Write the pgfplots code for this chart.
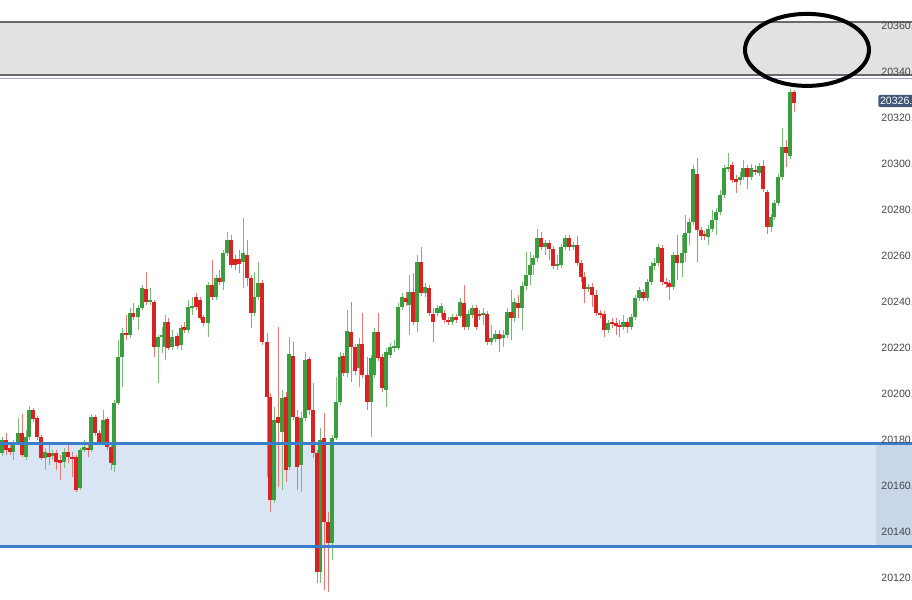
\documentclass[border=0pt]{standalone}
\usepackage{pgfplots}
\pgfplotsset{compat=1.18}
\usepackage{pgfplotstable}
\usepackage{fontspec}
\setmainfont{Liberation Sans}

\definecolor{upg}{RGB}{58,158,62}
\definecolor{upw}{RGB}{120,190,120}
\definecolor{dnr}{RGB}{218,34,34}
\definecolor{dnw}{RGB}{230,120,120}
\definecolor{zoneblue}{RGB}{217,229,243}
\definecolor{zoneblue2}{RGB}{200,214,231}
\definecolor{lineblue}{RGB}{58,128,200}
\definecolor{zonegrey}{RGB}{226,226,229}
\definecolor{boxline}{RGB}{105,105,110}
\definecolor{lilac}{RGB}{170,160,205}
\definecolor{lbl}{RGB}{70,70,70}
\definecolor{tag}{RGB}{66,86,118}

% x = position, o h l c = prices
\pgfplotstableread{
x o h l c
2 20174.3 20181.3 20173.0 20180.0
13 20174.8 20180.0 20171.3 20179.1
18 20179.1 20189.6 20177.8 20183.0
26 20172.6 20184.3 20171.3 20181.3
29 20181.3 20194.8 20180.0 20193.0
45 20172.2 20176.5 20167.0 20174.8
52 20173.0 20175.7 20171.3 20174.3
64 20170.4 20176.5 20167.8 20174.8
80 20159.1 20176.5 20158.3 20175.7
84 20175.7 20180.0 20174.8 20177.0
91 20175.7 20191.3 20174.8 20190.0
103 20179.1 20193.0 20177.8 20188.7
114 20169.1 20197.4 20166.1 20196.1
118 20196.1 20223.5 20195.2 20216.1
122 20216.1 20228.7 20203.0 20226.5
130 20225.7 20237.4 20224.3 20235.2
138 20233.5 20238.7 20227.8 20237.4
142 20237.4 20247.4 20236.5 20246.1
150 20240.0 20246.1 20238.7 20240.9
158 20220.4 20225.7 20204.8 20224.8
162 20224.8 20229.1 20217.8 20225.7
165 20220.4 20234.3 20214.8 20231.3
172 20220.4 20227.8 20219.1 20224.8
181 20221.3 20230.0 20219.1 20228.7
188 20227.8 20240.9 20226.5 20237.8
192 20237.4 20242.2 20234.3 20238.3
208 20230.9 20248.7 20224.8 20247.4
216 20242.2 20251.7 20240.9 20250.4
223 20248.7 20262.6 20245.2 20261.3
227 20261.3 20270.4 20260.0 20267.0
243 20257.4 20276.7 20246.1 20261.3
254 20235.2 20253.0 20233.9 20242.2
258 20242.2 20257.4 20240.9 20248.3
274 20153.9 20194.3 20152.6 20188.7
282 20183.5 20201.7 20158.3 20198.3
289 20168.3 20224.8 20167.0 20217.4
301 20169.1 20192.2 20157.4 20189.6
305 20189.6 20218.3 20188.3 20214.8
320 20122.6 20185.2 20117.8 20180.0
332 20135.2 20182.2 20127.8 20180.9
336 20180.9 20207.4 20180.0 20196.5
340 20196.5 20218.3 20195.2 20216.1
347 20209.1 20236.5 20207.4 20227.4
359 20211.3 20224.3 20203.0 20221.7
371 20196.5 20217.0 20181.3 20215.7
374 20208.3 20228.7 20207.0 20227.0
386 20201.7 20220.0 20194.3 20218.3
390 20217.0 20222.2 20215.7 20220.4
394 20220.0 20223.5 20218.3 20220.9
398 20220.0 20239.6 20219.1 20237.8
402 20237.8 20243.9 20236.5 20242.2
409 20238.7 20251.7 20225.7 20244.3
417 20231.3 20260.4 20227.0 20257.4
425 20243.9 20248.3 20242.2 20246.5
437 20235.2 20238.7 20233.9 20237.4
441 20235.2 20239.6 20233.0 20238.3
452 20231.3 20234.8 20230.0 20233.5
460 20233.9 20241.7 20233.0 20240.0
468 20229.1 20236.5 20227.8 20234.8
472 20234.3 20238.7 20233.0 20237.4
483 20234.3 20237.4 20230.0 20235.2
491 20222.6 20230.0 20221.3 20224.3
495 20223.9 20227.8 20222.6 20226.1
503 20224.3 20227.8 20220.4 20225.7
507 20225.7 20237.4 20224.3 20235.7
514 20233.0 20241.7 20231.3 20240.0
522 20237.4 20248.7 20227.8 20247.0
526 20247.0 20261.7 20245.2 20251.7
530 20251.7 20261.7 20247.4 20256.1
533 20256.1 20260.4 20251.7 20259.1
537 20259.1 20271.7 20257.4 20267.8
545 20263.9 20267.0 20260.4 20265.7
557 20255.7 20260.4 20253.9 20256.5
561 20256.1 20265.2 20254.8 20263.9
565 20263.9 20269.1 20262.6 20267.8
573 20263.9 20266.1 20262.6 20264.8
588 20245.7 20247.8 20244.3 20246.5
608 20227.8 20232.2 20226.5 20230.9
623 20229.1 20234.3 20227.8 20231.3
631 20229.1 20234.8 20227.8 20233.5
635 20233.5 20243.0 20232.2 20241.7
639 20241.7 20246.5 20240.4 20245.2
647 20241.7 20250.0 20240.4 20248.7
651 20248.7 20257.4 20247.4 20255.7
654 20255.7 20259.1 20253.9 20257.0
658 20257.0 20265.2 20255.7 20263.9
673 20246.5 20261.7 20245.2 20260.4
682 20257.0 20269.1 20250.9 20261.3
685 20261.3 20277.8 20257.4 20270.0
689 20270.0 20276.5 20264.8 20274.8
693 20274.8 20299.6 20273.5 20297.8
708 20268.3 20273.5 20264.8 20271.7
712 20271.7 20280.0 20270.4 20275.7
716 20275.7 20280.9 20269.1 20279.1
720 20279.1 20288.7 20277.8 20286.5
724 20286.5 20299.6 20285.2 20298.3
728 20297.8 20304.8 20296.5 20298.7
740 20293.0 20296.5 20290.9 20294.3
743 20294.3 20301.7 20293.0 20298.3
751 20294.3 20300.0 20293.0 20298.3
759 20296.1 20300.4 20294.8 20299.1
771 20272.6 20278.3 20270.4 20277.0
774 20277.0 20284.3 20275.7 20283.0
778 20283.0 20295.7 20281.7 20294.3
782 20294.3 20315.7 20293.0 20307.4
790 20303.5 20332.6 20302.2 20331.3
}\upcandles

\pgfplotstableread{
x o h l c
6 20180.0 20183.0 20173.5 20175.7
10 20176.5 20177.8 20173.5 20174.8
22 20183.0 20191.3 20172.6 20173.5
33 20193.0 20193.9 20187.8 20189.1
37 20189.6 20190.4 20180.0 20181.3
41 20181.3 20182.2 20171.3 20172.2
49 20174.3 20177.8 20169.1 20172.6
56 20174.3 20175.7 20167.0 20170.4
60 20171.3 20173.5 20162.6 20170.0
68 20174.8 20177.8 20170.0 20172.6
72 20172.6 20174.8 20163.9 20171.7
76 20172.6 20173.5 20157.4 20158.3
88 20176.5 20179.1 20172.6 20176.1
95 20190.0 20190.9 20181.7 20183.0
99 20183.0 20184.3 20177.8 20179.1
107 20189.1 20190.0 20175.7 20177.0
111 20177.0 20177.8 20167.0 20170.0
126 20226.5 20234.3 20223.5 20225.7
133 20235.2 20239.6 20232.2 20233.5
146 20245.7 20253.0 20238.7 20240.0
154 20240.0 20240.9 20216.1 20220.4
168 20231.3 20233.0 20219.1 20220.0
177 20225.2 20226.5 20219.6 20220.9
184 20229.1 20231.3 20226.5 20227.8
196 20242.2 20243.9 20236.5 20237.8
200 20240.9 20242.2 20232.2 20233.0
203 20233.5 20234.3 20229.6 20230.9
212 20247.4 20258.3 20240.9 20242.2
219 20250.4 20253.9 20247.4 20248.7
231 20267.0 20269.1 20254.8 20256.1
235 20258.7 20260.4 20253.9 20256.1
239 20258.7 20262.6 20252.6 20256.5
247 20260.4 20267.0 20247.0 20250.4
251 20250.4 20251.7 20228.7 20235.2
262 20248.3 20249.6 20221.3 20222.6
267 20222.6 20226.5 20163.9 20198.7
270 20198.7 20200.4 20148.7 20153.9
278 20190.0 20229.1 20159.6 20187.4
286 20198.7 20200.9 20161.7 20167.0
293 20216.5 20222.6 20188.7 20190.0
297 20190.0 20193.0 20158.3 20168.3
309 20215.2 20216.1 20190.9 20193.0
313 20193.0 20204.8 20172.2 20174.3
317 20174.3 20175.7 20117.8 20122.6
324 20180.9 20191.7 20114.8 20144.3
328 20144.3 20148.7 20113.9 20135.2
343 20216.5 20217.8 20207.8 20209.1
351 20227.0 20240.0 20205.2 20220.4
355 20220.4 20221.7 20208.3 20210.0
362 20221.7 20235.2 20207.0 20208.3
367 20208.3 20216.1 20193.0 20196.5
378 20227.0 20235.2 20214.3 20215.7
382 20216.1 20217.4 20200.9 20202.6
406 20241.7 20244.3 20238.3 20240.0
413 20244.3 20252.6 20230.0 20231.3
421 20257.4 20263.9 20242.6 20243.9
429 20246.1 20247.4 20233.9 20235.2
433 20234.8 20237.4 20222.6 20231.3
444 20235.2 20236.5 20230.9 20232.2
448 20232.2 20233.5 20230.0 20231.3
456 20233.5 20234.8 20230.9 20232.2
464 20239.6 20247.4 20227.8 20229.1
476 20237.4 20238.7 20227.8 20229.1
479 20234.8 20236.5 20232.2 20233.9
487 20234.8 20236.1 20221.3 20222.6
499 20226.1 20227.8 20218.3 20224.3
511 20235.7 20245.2 20223.5 20233.0
518 20239.6 20243.0 20233.0 20237.4
541 20267.8 20270.4 20262.6 20263.9
549 20265.7 20267.0 20258.3 20263.0
553 20263.0 20264.3 20254.3 20255.7
569 20267.8 20269.1 20262.2 20263.9
577 20264.8 20268.7 20255.7 20257.0
581 20257.0 20258.3 20248.7 20250.9
584 20250.9 20253.0 20239.6 20245.7
592 20246.5 20248.3 20237.8 20243.0
596 20243.0 20245.2 20233.9 20235.2
600 20235.2 20236.5 20233.0 20234.3
604 20234.8 20236.1 20224.8 20227.8
612 20231.3 20233.0 20228.7 20230.4
616 20230.9 20233.0 20225.7 20229.6
619 20230.0 20232.2 20224.8 20229.1
627 20231.3 20233.0 20226.5 20229.1
643 20244.3 20245.7 20240.4 20241.7
662 20263.5 20264.8 20247.4 20248.7
666 20248.7 20250.4 20246.1 20248.3
669 20248.3 20249.6 20240.9 20246.5
677 20260.4 20269.1 20249.6 20257.0
697 20295.7 20302.6 20257.4 20271.3
701 20271.3 20272.6 20267.0 20268.7
704 20269.6 20270.9 20267.0 20268.7
732 20299.6 20300.9 20291.7 20293.0
736 20293.5 20295.2 20287.4 20292.2
747 20298.3 20299.6 20289.1 20294.3
755 20297.4 20299.6 20295.2 20296.5
763 20299.1 20301.7 20287.8 20289.1
767 20287.8 20288.7 20269.6 20272.6
786 20307.4 20310.4 20298.7 20304.8
794 20331.3 20332.2 20322.6 20326.5
}\downcandles

\pgfplotsset{
  wick/.style={draw=none, mark=none, forget plot,
    error bars/.cd, y dir=both, y explicit, error mark=none,
    error bar style={line width=0.5pt, draw=#1}},
  body/.style={draw=none, mark=none, forget plot,
    error bars/.cd, y dir=both, y explicit, error mark=none,
    error bar style={line width=1.75pt, draw=#1}},
}

\begin{document}
\begin{tikzpicture}
\begin{axis}[
    name=ax,
    scale only axis,
    width=456pt, height=300pt,
    xmin=0, xmax=912,
    ymin=20110.4, ymax=20371.3,
    hide axis,
    clip=false,
]
    % zones
    \fill[zonegrey] (axis cs:0,20361.7) rectangle (axis cs:912,20338.7);
    \fill[zoneblue] (axis cs:0,20178.3) rectangle (axis cs:912,20133.5);
    \fill[zoneblue2] (axis cs:876,20178.3) rectangle (axis cs:912,20133.5);

    \addplot[wick=upw] table[x=x, y expr={(\thisrow{h}+\thisrow{l})/2}, y error expr={(\thisrow{h}-\thisrow{l})/2}] {\upcandles};
    \addplot[wick=dnw] table[x=x, y expr={(\thisrow{h}+\thisrow{l})/2}, y error expr={(\thisrow{h}-\thisrow{l})/2}] {\downcandles};
    \addplot[body=upg] table[x=x, y expr={(\thisrow{o}+\thisrow{c})/2}, y error expr={abs(\thisrow{c}-\thisrow{o})/2}] {\upcandles};
    \addplot[body=dnr] table[x=x, y expr={(\thisrow{o}+\thisrow{c})/2}, y error expr={abs(\thisrow{c}-\thisrow{o})/2}] {\downcandles};

    % zone borders
    \draw[boxline, line width=1.1pt] (axis cs:0,20361.7) -- (axis cs:912,20361.7);
    \draw[boxline, line width=1.1pt] (axis cs:0,20338.7) -- (axis cs:912,20338.7);
    \draw[lilac, line width=0.8pt] (axis cs:0,20337.2) -- (axis cs:912,20337.2);
    \draw[lineblue, line width=1.4pt] (axis cs:0,20178.3) -- (axis cs:912,20178.3);
    \draw[lineblue, line width=1.4pt] (axis cs:0,20133.5) -- (axis cs:912,20133.5);

    % price scale (cut at the right edge, as in the screenshot)
    \pgfplotsinvokeforeach{20120,20140,20160,20180,20200,20220,20240,20260,20280,20300,20320,20340,20360}{
      \node[anchor=west, inner sep=0pt, text=lbl, font=\fontsize{5.3}{6}\selectfont] at (axis cs:881,#1) {#1.};
    }
    \node[anchor=west, inner ysep=1.2pt, inner xsep=0.8pt, fill=tag, rounded corners=1pt, text=white, font=\fontsize{5.3}{6}\selectfont] at (axis cs:878,20327.4) {20326.};

    % hand-drawn circle
    \draw[black, line width=2pt] (axis cs:807,20349.6) ellipse [x radius=31pt, y radius=18pt];
\end{axis}
\pgfresetboundingbox
\useasboundingbox (ax.south west) rectangle (ax.north east);
\end{tikzpicture}
\end{document}
